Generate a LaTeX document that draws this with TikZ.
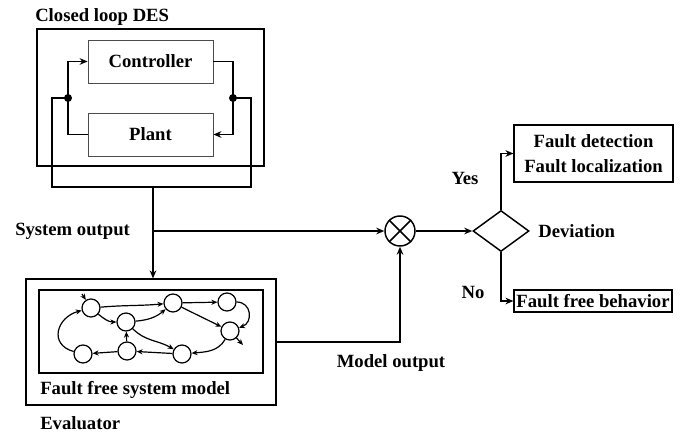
\documentclass[tikz,border=0pt]{standalone}
\usepackage{fontspec}
\setmainfont{Liberation Serif}
\usetikzlibrary{arrows.meta,shapes.geometric,fit}
\begin{document}
\begin{tikzpicture}[x=0.75pt,y=0.75pt,
  font=\bfseries\fontsize{14}{16}\selectfont,
  box/.style={draw, line width=0.9pt, inner sep=0pt},
  thinbox/.style={draw=black!70, line width=0.6pt, inner sep=0pt, minimum width=93.75pt, minimum height=32.25pt},
  wire/.style={line width=1.1pt},
  arr/.style={wire, -{Stealth[length=6pt,width=5pt]}},
  jdot/.style={circle, fill, inner sep=0pt, minimum size=6pt},
  st/.style={circle, draw, line width=0.9pt, minimum size=13.5pt, inner sep=0pt},
  garr/.style={line width=0.9pt, -{Stealth[length=4.5pt,width=3.8pt]}},
  lbl/.style={inner sep=0pt}]
\useasboundingbox (0,0) rectangle (680,432);

% Closed loop DES
\node[lbl, anchor=west] (cltitle) at (35,415) {Closed loop DES};
\node[box, fit={(37,403) (264,266)}] (closed) {};
\node[thinbox] (ctrl) at (150.5,370.5) {Controller};
\node[thinbox] (plant) at (150.5,297.5) {Plant};
\node[jdot] (ldot) at (68,334) {};
\node[jdot] (rdot) at (233,334) {};
\draw[wire] (plant.west) -| (ldot.center);
\draw[arr] (ldot.center) |- (ctrl.west);
\draw[wire] (ctrl.east) -| (rdot.center);
\draw[arr] (rdot.center) |- (plant.east);
\coordinate (bl) at (52,245);
\coordinate (br) at (251,245);
\coordinate (oc) at (153,245);
\draw[wire] (ldot.center) -| (bl) -- (br) |- (rdot.center);

% Evaluator
\node[box, fit={(26,153) (276,27)}] (eval) {};
\node[box, fit={(39,142) (263,59)}] (inner) {};
\node[lbl, anchor=west] (ffsm) at (40,42) {Fault free system model};
\node[lbl, anchor=west] (evlbl) at (40,9) {Evaluator};
\draw[arr] (oc) -- (oc |- eval.north);
\coordinate (br2) at (153,201);
\node[lbl, anchor=west] (sysout) at (15,201) {System output};

% comparator
\node[circle, draw, line width=1.1pt, minimum size=22.5pt, inner sep=0pt] (mult) at (400,201) {};
\draw[wire] (mult.north west) -- (mult.south east);
\draw[wire] (mult.north east) -- (mult.south west);
\draw[arr] (br2) -- (mult.west);
\coordinate (eo) at (276,90);
\draw[arr] (eo) -| (mult.south);
\node[lbl] (mout) at (391,69) {Model output};

% decision
\node[draw, diamond, line width=1.1pt, minimum width=42pt, minimum height=30.75pt, inner sep=0pt] (dev) at (501,201) {};
\node[lbl, anchor=west] (devlbl) at (538,201) {Deviation};
\draw[arr] (mult.east) -- (dev.west);
\node[box, minimum width=119.25pt, minimum height=42.75pt, align=center] (fd) at (593.5,278.5) {Fault detection\\[3pt]Fault localization};
\node[box, minimum width=118.5pt, minimum height=16.5pt] (ff) at (593,131) {Fault free behavior};
\draw[arr] (dev.north) |- (fd.west);
\draw[arr] (dev.south) |- (ff.west);
\node[lbl] (yes) at (465,254) {Yes};
\node[lbl] (no) at (473,140) {No};

% state graph
\node[st] (A) at (91,124) {};
\node[st] (B) at (126,110) {};
\node[st] (C) at (173,129) {};
\node[st] (D) at (227,130) {};
\node[st] (E) at (230,101) {};
\node[st] (F) at (83,78) {};
\node[st] (G) at (127,81) {};
\node[st] (H) at (182,78) {};
\coordinate (init) at (82,138);
\coordinate (eout) at (243,87);
\draw[garr] (init) -- (A);
\draw[garr] (F) to[out=165,in=195,looseness=1.6] (A);
\draw[garr] (A) to[out=-40,in=180] (B);
\draw[garr] (A) to[out=5,in=185] (C);
\draw[garr] (B) to[out=5,in=220] (C);
\draw[garr] (C) -- (D);
\draw[garr] (C) -- (E);
\draw[garr] (D) to[out=0,in=20,looseness=1.5] (E);
\draw[garr] (E) -- (eout);
\draw[garr] (E) to[out=-120,in=5] (H);
\draw[garr] (B) to[out=-45,in=150] (H);
\draw[garr] (H) -- (G);
\draw[garr] (G) -- (B);
\draw[garr] (G) -- (F);
\end{tikzpicture}
\end{document}
